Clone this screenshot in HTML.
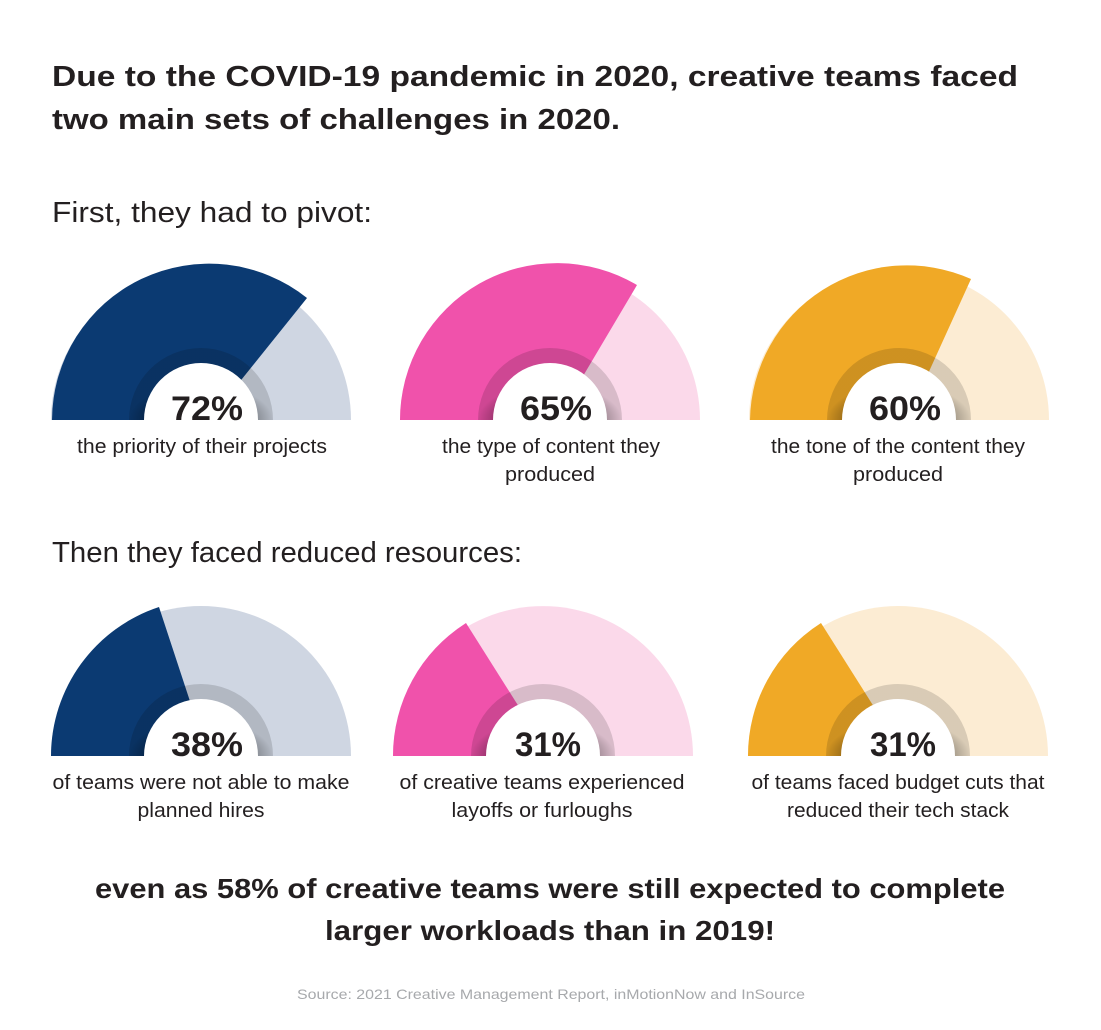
<!DOCTYPE html>
<html><head><meta charset="utf-8"><style>
html,body{margin:0;padding:0;background:#fff;}
svg{display:block;}
text{font-family:"Liberation Sans",sans-serif;fill:#231f20;}
</style></head><body>
<svg width="1101" height="1030" viewBox="0 0 1101 1030" xmlns="http://www.w3.org/2000/svg">
<defs>
<radialGradient id="sh" cx="0.5" cy="1" r="0.5" fx="0.5" fy="1" gradientUnits="objectBoundingBox">
<stop offset="0.79" stop-color="#000" stop-opacity="0.32"/>
<stop offset="1" stop-color="#000" stop-opacity="0.14"/>
</radialGradient>
</defs>
<text x="52" y="86" font-size="29" font-weight="bold" textLength="966" lengthAdjust="spacingAndGlyphs">Due to the COVID-19 pandemic in 2020, creative teams faced</text>
<text x="52" y="129" font-size="29" font-weight="bold" textLength="568" lengthAdjust="spacingAndGlyphs">two main sets of challenges in 2020.</text>
<text x="52" y="222" font-size="29" textLength="320" lengthAdjust="spacingAndGlyphs">First, they had to pivot:</text>
<text x="52" y="562" font-size="29" textLength="470" lengthAdjust="spacingAndGlyphs">Then they faced reduced resources:</text>

<!-- Row 1 -->
<g>
<path d="M51,420 A150,150 0 0 1 351,420 Z" fill="#cfd6e2"/>
<path d="M52,420 A157,157 0 0 1 307,298 L209,420 Z" fill="#0b3a72"/>
<path d="M129,420 A72,72 0 0 1 273,420 Z" fill="url(#sh)"/>
<path d="M144,420 A57,57 0 0 1 258,420 Z" fill="#fff"/>
<text x="207" y="420" font-size="34" font-weight="bold" text-anchor="middle" textLength="72" lengthAdjust="spacingAndGlyphs">72%</text>
<text x="202" y="453" font-size="20" text-anchor="middle" textLength="250" lengthAdjust="spacingAndGlyphs">the priority of their projects</text>
</g>
<g>
<path d="M400,420 A150,150 0 0 1 700,420 Z" fill="#fbd9ea"/>
<path d="M400,420 A157,157 0 0 1 637,285 L557,420 Z" fill="#f052ab"/>
<path d="M478,420 A72,72 0 0 1 622,420 Z" fill="url(#sh)"/>
<path d="M493,420 A57,57 0 0 1 607,420 Z" fill="#fff"/>
<text x="556" y="420" font-size="34" font-weight="bold" text-anchor="middle" textLength="72" lengthAdjust="spacingAndGlyphs">65%</text>
<text x="551" y="453" font-size="20" text-anchor="middle" textLength="218" lengthAdjust="spacingAndGlyphs">the type of content they</text>
<text x="550" y="481" font-size="20" text-anchor="middle" textLength="90" lengthAdjust="spacingAndGlyphs">produced</text>
</g>
<g>
<path d="M749,420 A150,150 0 0 1 1049,420 Z" fill="#fcecd3"/>
<path d="M750,420 A157,157 0 0 1 971,279 L907,420 Z" fill="#f0a926"/>
<path d="M827,420 A72,72 0 0 1 971,420 Z" fill="url(#sh)"/>
<path d="M842,420 A57,57 0 0 1 956,420 Z" fill="#fff"/>
<text x="905" y="420" font-size="34" font-weight="bold" text-anchor="middle" textLength="72" lengthAdjust="spacingAndGlyphs">60%</text>
<text x="898" y="453" font-size="20" text-anchor="middle" textLength="254" lengthAdjust="spacingAndGlyphs">the tone of the content they</text>
<text x="898" y="481" font-size="20" text-anchor="middle" textLength="90" lengthAdjust="spacingAndGlyphs">produced</text>
</g>

<!-- Row 2 -->
<g>
<path d="M51,756 A150,150 0 0 1 351,756 Z" fill="#cfd6e2"/>
<path d="M51,756 A157,157 0 0 1 159,607 L208,756 Z" fill="#0b3a72"/>
<path d="M129,756 A72,72 0 0 1 273,756 Z" fill="url(#sh)"/>
<path d="M144,756 A57,57 0 0 1 258,756 Z" fill="#fff"/>
<text x="207" y="756" font-size="34" font-weight="bold" text-anchor="middle" textLength="72" lengthAdjust="spacingAndGlyphs">38%</text>
<text x="201" y="789" font-size="20" text-anchor="middle" textLength="297" lengthAdjust="spacingAndGlyphs">of teams were not able to make</text>
<text x="201" y="817" font-size="20" text-anchor="middle" textLength="127" lengthAdjust="spacingAndGlyphs">planned hires</text>
</g>
<g>
<path d="M393,756 A150,150 0 0 1 693,756 Z" fill="#fbd9ea"/>
<path d="M393,756 A157,157 0 0 1 466,623 L550,756 Z" fill="#f052ab"/>
<path d="M471,756 A72,72 0 0 1 615,756 Z" fill="url(#sh)"/>
<path d="M486,756 A57,57 0 0 1 600,756 Z" fill="#fff"/>
<text x="548" y="756" font-size="34" font-weight="bold" text-anchor="middle" textLength="66" lengthAdjust="spacingAndGlyphs">31%</text>
<text x="542" y="789" font-size="20" text-anchor="middle" textLength="285" lengthAdjust="spacingAndGlyphs">of creative teams experienced</text>
<text x="542" y="817" font-size="20" text-anchor="middle" textLength="181" lengthAdjust="spacingAndGlyphs">layoffs or furloughs</text>
</g>
<g>
<path d="M748,756 A150,150 0 0 1 1048,756 Z" fill="#fcecd3"/>
<path d="M748,756 A157,157 0 0 1 821,623 L905,756 Z" fill="#f0a926"/>
<path d="M826,756 A72,72 0 0 1 970,756 Z" fill="url(#sh)"/>
<path d="M841,756 A57,57 0 0 1 955,756 Z" fill="#fff"/>
<text x="903" y="756" font-size="34" font-weight="bold" text-anchor="middle" textLength="66" lengthAdjust="spacingAndGlyphs">31%</text>
<text x="898" y="789" font-size="20" text-anchor="middle" textLength="293" lengthAdjust="spacingAndGlyphs">of teams faced budget cuts that</text>
<text x="898" y="817" font-size="20" text-anchor="middle" textLength="222" lengthAdjust="spacingAndGlyphs">reduced their tech stack</text>
</g>

<text x="550" y="898" font-size="28" font-weight="bold" text-anchor="middle" textLength="910" lengthAdjust="spacingAndGlyphs">even as 58% of creative teams were still expected to complete</text>
<text x="550" y="940" font-size="28" font-weight="bold" text-anchor="middle" textLength="450" lengthAdjust="spacingAndGlyphs">larger workloads than in 2019!</text>
<text x="551" y="999" font-size="14" style="fill:#a7a9ac" text-anchor="middle" textLength="508" lengthAdjust="spacingAndGlyphs">Source: 2021 Creative Management Report, inMotionNow and InSource</text>
</svg>
</body></html>
